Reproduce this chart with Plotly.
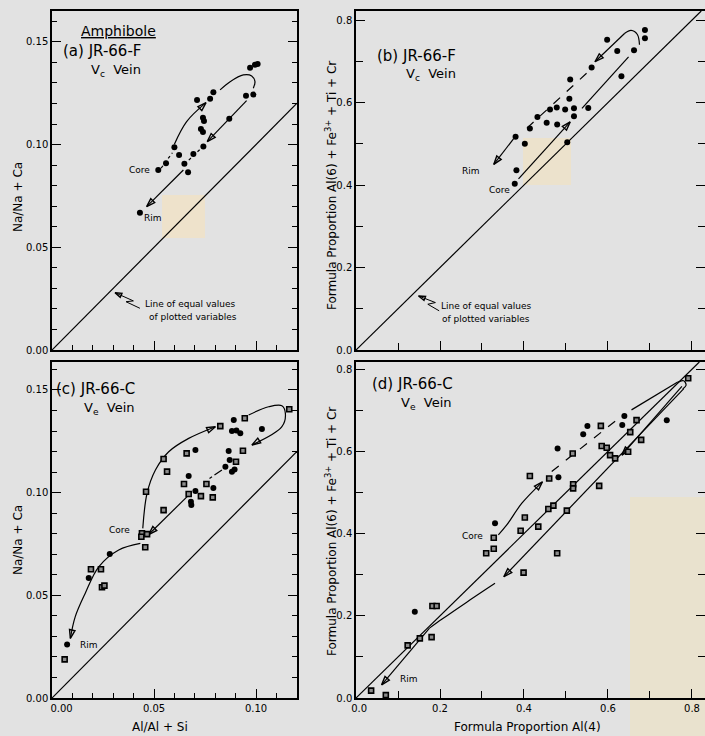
import plotly.graph_objects as go

W, H = 705, 736
BG = "rgb(226,226,226)"
FONT = "DejaVu Sans"

# ---------------- data ----------------
# (a) JR-66-F, Vc vein : Al/Al+Si vs Na/Na+Ca
a_x = [0.0521, 0.0559, 0.0600, 0.0623, 0.0649, 0.0667, 0.0693, 0.0742, 0.0711, 0.0775, 0.0791,
       0.0740, 0.0745, 0.0730, 0.0740, 0.0869, 0.0951, 0.0987, 0.0971, 0.0995, 0.1008, 0.0431]
a_y = [0.0876, 0.0909, 0.0987, 0.0949, 0.0906, 0.0865, 0.0954, 0.0990, 0.1217, 0.1223, 0.1255,
       0.1130, 0.1115, 0.1076, 0.1061, 0.1125, 0.1238, 0.1243, 0.1374, 0.1388, 0.1392, 0.0668]

# (b) JR-66-F, Vc vein : Al(4) vs Al(6)+Fe3+ +Ti+Cr
b_x = [0.688, 0.688, 0.598, 0.622, 0.662, 0.561, 0.632, 0.510, 0.508, 0.462, 0.478, 0.498,
       0.519, 0.553, 0.519, 0.432, 0.454, 0.479, 0.414, 0.380, 0.402, 0.503, 0.382, 0.378]
b_y = [0.776, 0.756, 0.752, 0.725, 0.727, 0.685, 0.664, 0.656, 0.609, 0.583, 0.588, 0.583,
       0.586, 0.587, 0.567, 0.565, 0.551, 0.547, 0.537, 0.517, 0.500, 0.504, 0.436, 0.403]

# (c) JR-66-C, Ve vein : dots and squares
c_dot_x = [0.0891, 0.0882, 0.0904, 0.0923, 0.1029, 0.0866, 0.0703, 0.0670, 0.0703, 0.0791,
           0.0681, 0.0683, 0.0283, 0.0180, 0.0074, 0.0850, 0.0871, 0.0895, 0.0882]
c_dot_y = [0.1353, 0.1300, 0.1302, 0.1289, 0.1310, 0.1203, 0.1207, 0.1081, 0.1008, 0.1022,
           0.0956, 0.0940, 0.0701, 0.0584, 0.0261, 0.1126, 0.1159, 0.1113, 0.1102]
c_sq_x = [0.0825, 0.0945, 0.1163, 0.0936, 0.0660, 0.0547, 0.0564, 0.0461, 0.0647, 0.0670,
          0.0730, 0.0757, 0.0788, 0.0547, 0.0441, 0.0438, 0.0466, 0.0457, 0.0191, 0.0240,
          0.0245, 0.0257, 0.0062, 0.0902]
c_sq_y = [0.1324, 0.1362, 0.1406, 0.1204, 0.1191, 0.1164, 0.1102, 0.1004, 0.1042, 0.0993,
          0.0983, 0.1042, 0.0977, 0.0915, 0.0802, 0.0785, 0.0798, 0.0734, 0.0627, 0.0627,
          0.0539, 0.0547, 0.0188, 0.1150]

# (d) JR-66-C, Ve vein : dots and squares
d_dot_x = [0.639, 0.740, 0.634, 0.551, 0.541, 0.480, 0.482, 0.331, 0.140]
d_dot_y = [0.686, 0.676, 0.664, 0.662, 0.642, 0.607, 0.537, 0.425, 0.210]
d_sq_x = [0.791, 0.668, 0.653, 0.679, 0.648, 0.583, 0.585, 0.597, 0.605, 0.617, 0.516, 0.414,
          0.460, 0.517, 0.517, 0.579, 0.458, 0.470, 0.502, 0.402, 0.434, 0.392, 0.328, 0.328,
          0.310, 0.479, 0.399, 0.182, 0.192, 0.152, 0.180, 0.123, 0.036, 0.071]
d_sq_y = [0.778, 0.676, 0.647, 0.628, 0.599, 0.662, 0.613, 0.609, 0.591, 0.583, 0.595, 0.540,
          0.534, 0.520, 0.510, 0.516, 0.460, 0.468, 0.456, 0.439, 0.417, 0.407, 0.390, 0.363,
          0.352, 0.352, 0.305, 0.224, 0.224, 0.145, 0.148, 0.128, 0.018, 0.007]

# tick labels
ratio_ticks = [0.0, 0.05, 0.10, 0.15]
ratio_text_y = ["0.00", "0.05", "0.10", "0.15"]
ratio_text_x = ["\u00a0\u00a0\u00a0\u00a0\u00a0\u00a00.00", "0.05", "0.10", "0.15"]
prop_ticks = [0.0, 0.2, 0.4, 0.6, 0.8]
prop_text = ["0.0", "0.2", "0.4", "0.6", "0.8"]
prop_text_x = ["\u00a0\u00a00.0", "0.2", "0.4", "0.6", "0.8"]

# ---------------- trend arrows (data coordinates) ----------------
# each entry: points, dash style, arrowhead at end, smoothed
paths_a = [
    ([(0.0600, 0.1002), (0.0660, 0.1112), (0.0755, 0.1204)], "solid", True, True),
    ([(0.0824, 0.1266), (0.0873, 0.1306), (0.0938, 0.1339), (0.0979, 0.1334),
      (0.0995, 0.1306), (0.0987, 0.1274)], "solid", False, True),
    ([(0.0954, 0.1214), (0.0761, 0.1014)], "solid", True, False),
    ([(0.0745, 0.0995), (0.0650, 0.0905)], "dot", False, False),
    ([(0.0535, 0.0885), (0.0590, 0.0960)], "dot", False, False),
    ([(0.0644, 0.0876), (0.0464, 0.0698)], "solid", True, False),
]
paths_b = [
    ([(0.675, 0.740), (0.670, 0.765), (0.655, 0.775), (0.640, 0.768)], "solid", False, True),
    ([(0.640, 0.768), (0.569, 0.699)], "solid", True, False),
    ([(0.549, 0.671), (0.392, 0.524)], "dash", False, False),
    ([(0.375, 0.512), (0.328, 0.450)], "solid", True, False),
    ([(0.387, 0.415), (0.510, 0.553)], "solid", True, False),
    ([(0.538, 0.586), (0.649, 0.711)], "solid", False, False),
]
paths_c = [
    ([(0.0445, 0.0826), (0.0466, 0.0997), (0.0507, 0.1110), (0.0572, 0.1199),
      (0.0670, 0.1264), (0.0801, 0.1321)], "solid", True, True),
    ([(0.0964, 0.1378), (0.1062, 0.1418), (0.1127, 0.1423), (0.1144, 0.1386),
      (0.1127, 0.1321), (0.0980, 0.1232)], "solid", True, True),
    ([(0.0833, 0.1110), (0.0760, 0.1061)], "dashdot", False, False),
    ([(0.0670, 0.0988), (0.0474, 0.0796)], "solid", True, False),
    ([(0.0433, 0.0753), (0.0327, 0.0721), (0.0229, 0.0639), (0.0163, 0.0510),
      (0.0114, 0.0396), (0.0090, 0.0290)], "solid", True, True),
]
paths_d = [
    ([(0.339, 0.397), (0.359, 0.421), (0.395, 0.474), (0.444, 0.526)], "solid", True, True),
    ([(0.466, 0.551), (0.625, 0.680)], "dash", False, False),
    ([(0.656, 0.701), (0.765, 0.768)], "solid", False, False),
    ([(0.765, 0.768), (0.780, 0.772), (0.786, 0.761), (0.778, 0.752)], "solid", False, True),
    ([(0.776, 0.758), (0.633, 0.591)], "solid", True, False),
    ([(0.780, 0.752), (0.352, 0.295)], "solid", True, False),
    ([(0.331, 0.279), (0.262, 0.232), (0.205, 0.192), (0.175, 0.170)], "solid", False, True),
    ([(0.175, 0.170), (0.061, 0.032)], "solid", True, False),
]

# zig-zag pointers to the 1:1 line
callouts = {
    "a": [(0.0431, 0.0203), (0.0363, 0.0235), (0.0399, 0.0239), (0.0309, 0.0279)],
    "b": [(0.198, 0.095), (0.171, 0.111), (0.189, 0.115), (0.149, 0.131)],
}


def px(x, y):
    """pixel position -> paper coordinates"""
    return x / W, 1 - y / H


fig = go.Figure()

# axis geometry (pixels)
LEFT_A, RIGHT_A = 52, 297
LEFT_B, RIGHT_B = 356, 705
TOP_1, BOT_1 = 11, 350
TOP_2, BOT_2 = 362, 698

x_range_ratio = [0, 0.1201]
x_range_prop = [0, 0.831]
ranges = {
    "a": (x_range_ratio, [0, 0.165]),
    "b": (x_range_prop, [0, 0.822]),
    "c": (x_range_ratio, [0, 0.1636]),
    "d": (x_range_prop, [0, 0.8175]),
}
axes_ids = {"a": ("x", "y"), "b": ("x2", "y2"), "c": ("x3", "y3"), "d": ("x4", "y4")}

# yellowed patches on the page
for (x0, y0, x1, y1, col) in [
    (162, 195, 205, 238, "rgb(238,226,203)"),
    (523, 138, 571, 185, "rgb(236,226,204)"),
    (630, 497, 705, 736, "rgb(233,226,206)"),
]:
    p0 = px(x0, y1)
    p1 = px(x1, y0)
    fig.add_shape(type="rect", xref="paper", yref="paper", x0=p0[0], y0=p0[1],
                  x1=p1[0], y1=p1[1], fillcolor=col, line_width=0, layer="below")

# lines of equal values
for k, (xr, yr) in ranges.items():
    xa, ya = axes_ids[k]
    m = min(xr[1], yr[1])
    fig.add_trace(go.Scatter(x=[0, m], y=[0, m], mode="lines",
                             line=dict(color="black", width=1.2),
                             xaxis=xa, yaxis=ya, hoverinfo="skip", showlegend=False))


def draw_line(key, pts, dash="solid", arrow=False, smooth=False, width=1.2, head=9):
    xa, ya = axes_ids[key]
    xs = [p[0] for p in pts]
    ys = [p[1] for p in pts]
    n = len(xs)
    tr = dict(x=xs, y=ys, xaxis=xa, yaxis=ya, hoverinfo="skip", showlegend=False,
              line=dict(color="black", width=width, dash=dash,
                        shape="spline" if smooth else "linear"))
    if arrow:
        tr["mode"] = "lines+markers"
        tr["marker"] = dict(symbol="arrow-open", angleref="previous",
                            size=[head] * n, opacity=[0] * (n - 1) + [1],
                            color="black", line=dict(color="black", width=1.4))
    else:
        tr["mode"] = "lines"
    fig.add_trace(go.Scatter(**tr))


for key, paths in (("a", paths_a), ("b", paths_b), ("c", paths_c), ("d", paths_d)):
    for pts, dash, arrow, smooth in paths:
        draw_line(key, pts, dash, arrow, smooth)

for key, pts in callouts.items():
    draw_line(key, pts, arrow=True, width=1, head=7)

dot = dict(symbol="circle", size=6, color="black")
sq = dict(symbol="square", size=5, color="rgb(140,140,140)", line=dict(color="black", width=1.6))


def scatter(x, y, key, marker):
    xa, ya = axes_ids[key]
    fig.add_trace(go.Scatter(x=x, y=y, mode="markers", marker=marker,
                             xaxis=xa, yaxis=ya, showlegend=False))


scatter(a_x, a_y, "a", dot)
scatter(b_x, b_y, "b", dot)
scatter(c_dot_x, c_dot_y, "c", dot)
scatter(c_sq_x, c_sq_y, "c", sq)
scatter(d_dot_x, d_dot_y, "d", dot)
scatter(d_sq_x, d_sq_y, "d", sq)

# axes
tickfont = dict(family=FONT, size=10, color="black")


def axis_common():
    return dict(showline=True, linecolor="black", linewidth=1.5, showgrid=False,
                zeroline=False, ticks="inside", tickcolor="black", tickwidth=1.2,
                tickfont=tickfont, fixedrange=True, automargin=False)


def ratio_axis(domain, rng, text, labels=True, is_x=True):
    d = axis_common()
    d.update(domain=domain, range=rng, tickmode="array", tickvals=ratio_ticks,
             ticktext=text, ticklen=9, showticklabels=labels,
             minor=dict(tickmode="linear", tick0=0, dtick=0.01, ticklen=5,
                        ticks="inside", tickcolor="black", tickwidth=1),
             mirror=True if is_x else "ticks")
    return d


def prop_axis(domain, rng, labels=True, is_x=True, text=prop_text):
    d = axis_common()
    d.update(domain=domain, range=rng, tickmode="array", tickvals=prop_ticks,
             ticktext=text, ticklen=9, showticklabels=labels,
             minor=dict(tickmode="linear", tick0=0, dtick=0.1, ticklen=7,
                        ticks="inside", tickcolor="black", tickwidth=1),
             mirror=True if is_x else "ticks")
    return d


dom_xa = [LEFT_A / W, RIGHT_A / W]
dom_xb = [LEFT_B / W, RIGHT_B / W]
dom_y1 = [1 - BOT_1 / H, 1 - TOP_1 / H]
dom_y2 = [1 - BOT_2 / H, 1 - TOP_2 / H]

fig.update_layout(
    width=W, height=H, autosize=False,
    margin=dict(l=0, r=0, t=0, b=0, pad=0, autoexpand=False),
    paper_bgcolor=BG, plot_bgcolor="rgba(0,0,0,0)",
    font=dict(family=FONT, color="black"),
    xaxis=ratio_axis(dom_xa, ranges["a"][0], ratio_text_x, labels=False) | dict(anchor="y"),
    yaxis=ratio_axis(dom_y1, ranges["a"][1], ratio_text_y, is_x=False) | dict(anchor="x"),
    xaxis2=prop_axis(dom_xb, ranges["b"][0], labels=False) | dict(anchor="y2"),
    yaxis2=prop_axis(dom_y1, ranges["b"][1], is_x=False) | dict(anchor="x2"),
    xaxis3=ratio_axis(dom_xa, ranges["c"][0], ratio_text_x) | dict(anchor="y3"),
    yaxis3=ratio_axis(dom_y2, ranges["c"][1], ratio_text_y, is_x=False) | dict(anchor="x3"),
    xaxis4=prop_axis(dom_xb, ranges["d"][0], text=prop_text_x) | dict(anchor="y4"),
    yaxis4=prop_axis(dom_y2, ranges["d"][1], is_x=False) | dict(anchor="x4"),
)


def label(text, x, y, size=14, xanchor="left", angle=0):
    p = px(x, y)
    fig.add_annotation(text=text, x=p[0], y=p[1], xref="paper", yref="paper",
                       showarrow=False, xanchor=xanchor, yanchor="middle",
                       textangle=angle, font=dict(family=FONT, size=size, color="black"))


# panel headings
label("<u>Amphibole</u>", 118, 31, size=14, xanchor="center")
label("(a) JR-66-F", 61, 51, size=15)
label("V<sub>c</sub>  Vein", 89, 71, size=13)
label("(b) JR-66-F", 375, 56, size=15)
label("V<sub>c</sub>  Vein", 404, 75, size=13)
label("(c) JR-66-C", 54, 389, size=15)
label("V<sub>e</sub>  Vein", 82, 408, size=13)
label("(d) JR-66-C", 370, 384, size=15)
label("V<sub>e</sub>  Vein", 399, 403, size=13)

# axis titles
label("Na/Na + Ca", 18, 197, size=12, xanchor="center", angle=-90)
label("Na/Na + Ca", 18, 540, size=12, xanchor="center", angle=-90)
label("Formula Proportion Al(6) + Fe<sup>3+</sup> + Ti + Cr", 331, 186, size=12,
      xanchor="center", angle=-90)
label("Formula Proportion Al(6) + Fe<sup>3+</sup> + Ti + Cr", 331, 532, size=12,
      xanchor="center", angle=-90)
label("Al/Al + Si", 160, 727, size=12, xanchor="center")
label("Formula Proportion Al(4)", 527, 727, size=12, xanchor="center")


def note(text, key, x, y, xanchor, size=9):
    xa, ya = axes_ids[key]
    fig.add_annotation(text=text, x=x, y=y, xref=xa, yref=ya, showarrow=False,
                       xanchor=xanchor, yanchor="middle",
                       font=dict(family=FONT, size=size, color="black"))


# Core / Rim labels
note("Core", "a", 0.0490, 0.0876, "right")
note("Rim", "a", 0.0443, 0.0643, "left")
note("Rim", "b", 0.300, 0.435, "right")
note("Core", "b", 0.371, 0.387, "right")
note("Core", "c", 0.0392, 0.0820, "right")
note("Rim", "c", 0.0127, 0.0258, "left")
note("Core", "d", 0.307, 0.394, "right")
note("Rim", "d", 0.099, 0.047, "left")

# line-of-equal-values captions
note("Line of equal values", "a", 0.0446, 0.0224, "left", size=9)
note("of plotted variables", "a", 0.0466, 0.0161, "left", size=9)
note("Line of equal values", "b", 0.198, 0.107, "left", size=9)
note("of plotted variables", "b", 0.200, 0.075, "left", size=9)

fig.write_html("out.html")
